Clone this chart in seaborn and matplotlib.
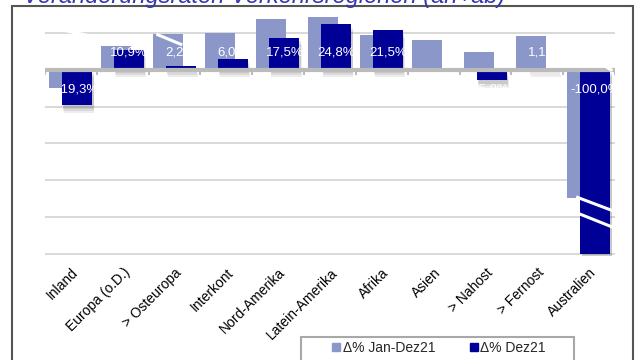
import numpy as np
import pandas as pd
import matplotlib
matplotlib.use("Agg")
import matplotlib.pyplot as plt
import matplotlib.patheffects as pe
from matplotlib.lines import Line2D
from matplotlib.patches import Rectangle
import seaborn as sns

# --- data -------------------------------------------------------------
regions = ["Inland", "Europa (o.D.)", "> Osteuropa", "Interkont", "Nord-Amerika",
           "Latein-Amerika", "Afrika", "Asien", "> Nahost", "> Fernost", "Australien"]
delta_year = [-9.7, 13.1, 19.3, 19.8, 27.6, 28.8, 18.9, 16.2, 9.4, 18.4, -69.7]
delta_dec = [-19.3, 10.9, 2.2, 6.0, 17.5, 24.8, 21.5, np.nan, -5.8, 1.1, -100.0]
series_names = ["Δ% Jan-Dez21", "Δ% Dez21"]
title = "Veränderungsraten Verkehrsregionen (an+ab)"

LIGHT = "#8c97c9"
DARK = "#000096"

sns.set_theme(style="white")
plt.rcParams["font.family"] = ["Liberation Sans", "DejaVu Sans"]

df = pd.DataFrame({"region": regions, "year": delta_year, "dec": delta_dec})

fig = plt.figure(figsize=(6.42, 3.60), dpi=100)
ax = fig.add_axes([45 / 642, 1 - 255.85 / 360, 570 / 642, 249.85 / 360])

bar_w = 0.58
sns.barplot(data=df, x="region", y="year", order=regions, color=LIGHT,
            width=bar_w, errorbar=None, saturation=1, ax=ax, zorder=2)
n_light = len(ax.patches)
sns.barplot(data=df, x="region", y="dec", order=regions, color=DARK,
            width=bar_w, errorbar=None, saturation=1, ax=ax, zorder=3)

# overlap the two series: light bar shifted left, dark bar shifted right
for k, p in enumerate(ax.patches):
    p.set_linewidth(0)
    if k < n_light:
        p.set_x(p.get_x() - 0.13)
    else:
        p.set_x(p.get_x() + 0.12)
        p.set_path_effects([
            pe.SimplePatchShadow(offset=(1, -2.5), shadow_rgbFace="#555555", alpha=0.12),
            pe.SimplePatchShadow(offset=(1, -4), shadow_rgbFace="#555555", alpha=0.12),
            pe.SimplePatchShadow(offset=(1.5, -5.5), shadow_rgbFace="#555555", alpha=0.10),
            pe.Normal(),
        ])

# value labels (white, centred on the dark bars)
for i, v in enumerate(delta_dec):
    if np.isnan(v):
        continue
    txt = f"{v:.1f}%".replace(".", ",")
    ypos = 9.5 if v >= 0 else -10.8
    ax.text(i + 0.12, ypos, txt, ha="center", va="center", color="white",
            fontsize=9.5, zorder=6)

# zero line with small category ticks
ax.axhline(0, color="#bbbbbb", lw=3, zorder=4)
ax.vlines(np.arange(len(regions) + 1) - 0.5, -2.6, 0, color="#bbbbbb", lw=1.5, zorder=4)

# scale breaks
def break_mark(x0, x1, y0, y1):
    ax.plot([x0, x1], [y0, y1], color="white", lw=2.2, zorder=7, solid_capstyle="butt")

break_mark(1.65, 2.15, 19.3, 13.5)
break_mark(-0.15, 0.35, 21.5, 18.5)
break_mark(10.25, 10.45, 3.0, -0.5)
break_mark(9.75, 10.55, -69.0, -77.5)
break_mark(9.75, 10.55, -77.5, -86.5)

ax.set_xlim(-0.5, len(regions) - 0.5)
ax.set_ylim(-101, 34.6)
ax.set_yticks(np.arange(-100, 21, 20))
ax.set_yticklabels([])
ax.grid(axis="y", color="#d2d2d2", lw=1.2, zorder=0)
ax.grid(axis="x", visible=False)
ax.set_axisbelow(True)
for s in ax.spines.values():
    s.set_visible(False)
ax.set_xlabel("")
ax.set_ylabel("")
ax.tick_params(axis="both", length=0)
ax.tick_params(axis="x", pad=7)
ax.set_xticks(range(len(regions)))
ax.set_xticklabels(regions, rotation=45, ha="right", rotation_mode="anchor",
                   fontsize=10, color="black")

# legend below the plot, inside its own box
handles = [Line2D([], [], marker="s", ls="none", color=c, markersize=5.5)
           for c in (LIGHT, DARK)]
leg = fig.legend(handles, series_names, loc="center left",
                 bbox_to_anchor=(324 / 642, 1 - 348 / 360), bbox_transform=fig.transFigure,
                 ncol=2, fontsize=10, frameon=False, handletextpad=0.05,
                 columnspacing=2.4, borderpad=0.0, handlelength=0.8)
fig.patches.append(Rectangle((301 / 642, -0.05), 273 / 642, 0.05 + 23 / 360,
                             transform=fig.transFigure, fill=False,
                             edgecolor="#a8a8a8", lw=1.5))

# outer frame and title
fig.patches.append(Rectangle((12 / 642, -0.05), 621 / 642, 1.05 - 6 / 360,
                             transform=fig.transFigure, fill=False,
                             edgecolor="#555555", lw=1.5))
fig.text(23 / 642, 1 - 3 / 360, title, ha="left", va="baseline", fontsize=17,
         style="italic", color="#3636b0")

fig.savefig("out.png", dpi=100)
